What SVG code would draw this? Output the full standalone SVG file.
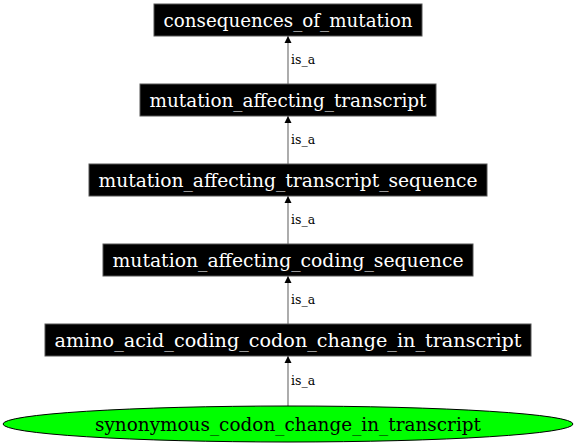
<svg xmlns="http://www.w3.org/2000/svg" width="576" height="448" viewBox="0 0 576 448">
<defs>
<style>
.box{fill:#000;stroke:#555;stroke-width:1}
.lbl{font-family:"DejaVu Serif",serif;font-size:18.5px;fill:#fff;text-anchor:middle}
.elbl{font-family:"DejaVu Serif",serif;font-size:12.5px;fill:#000}
.edge{stroke:#808080;stroke-width:1.3;fill:none}
</style>
<marker id="arr" viewBox="0 0 10 10" refX="10" refY="5" markerWidth="7" markerHeight="10" markerUnits="userSpaceOnUse" orient="auto">
<path d="M0,0 L10,5 L0,10 z" fill="#000"/>
</marker>
</defs>
<rect width="576" height="448" fill="#fff"/>
<g id="connectors">
<line class="edge" x1="288" y1="84" x2="288" y2="36" marker-end="url(#arr)"/>
<text class="elbl" x="291" y="64">is_a</text>
<line class="edge" x1="288" y1="164" x2="288" y2="116" marker-end="url(#arr)"/>
<text class="elbl" x="291" y="144">is_a</text>
<line class="edge" x1="288" y1="244" x2="288" y2="196" marker-end="url(#arr)"/>
<text class="elbl" x="291" y="224">is_a</text>
<line class="edge" x1="288" y1="324" x2="288" y2="276" marker-end="url(#arr)"/>
<text class="elbl" x="291" y="304">is_a</text>
<line class="edge" x1="288" y1="406" x2="288" y2="356" marker-end="url(#arr)"/>
<text class="elbl" x="291" y="385">is_a</text>
</g>
<g id="consequences_of_mutation">
<rect class="box" x="154" y="4" width="268" height="32"/>
<text class="lbl" x="288" y="26.5" textLength="249" lengthAdjust="spacingAndGlyphs">consequences_of_mutation</text>
</g>
<g id="mutation_affecting_transcript">
<rect class="box" x="140" y="84" width="296" height="32"/>
<text class="lbl" x="288" y="106.5" textLength="277" lengthAdjust="spacingAndGlyphs">mutation_affecting_transcript</text>
</g>
<g id="mutation_affecting_transcript_sequence">
<rect class="box" x="89" y="164" width="398" height="32"/>
<text class="lbl" x="288" y="186.5" textLength="379" lengthAdjust="spacingAndGlyphs">mutation_affecting_transcript_sequence</text>
</g>
<g id="mutation_affecting_coding_sequence">
<rect class="box" x="103" y="244" width="370" height="32"/>
<text class="lbl" x="288" y="266.5" textLength="351" lengthAdjust="spacingAndGlyphs">mutation_affecting_coding_sequence</text>
</g>
<g id="amino_acid_coding_codon_change_in_transcript">
<rect class="box" x="45" y="324" width="486" height="32"/>
<text class="lbl" x="288" y="346.5" textLength="467" lengthAdjust="spacingAndGlyphs">amino_acid_coding_codon_change_in_transcript</text>
</g>
<g id="synonymous_codon_change_in_transcript">
<ellipse cx="288" cy="424" rx="285" ry="18" fill="#00ff00" stroke="#000" stroke-width="1"/>
<text class="lbl" x="288" y="430.5" textLength="386" lengthAdjust="spacingAndGlyphs" style="fill:#000">synonymous_codon_change_in_transcript</text>
</g>
</svg>
